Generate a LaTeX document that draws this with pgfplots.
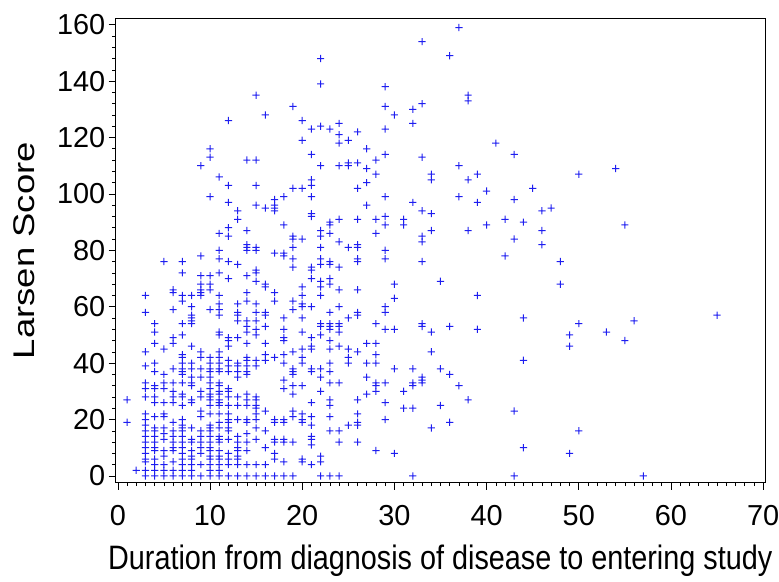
\documentclass[border=0pt]{standalone}
\usepackage{fontspec}
\setmainfont{Liberation Sans}
\usepackage{pgfplots}
\pgfplotsset{compat=1.18}
\usepackage{pgfplotstable}
\definecolor{sasblue}{RGB}{30,30,240}
\pgfdeclareplotmark{fplus}{%
  \pgfpathrectangle{\pgfpoint{-\pgfplotmarksize}{-0.5bp}}{\pgfpoint{2\pgfplotmarksize}{1bp}}%
  \pgfpathrectangle{\pgfpoint{-0.5bp}{-\pgfplotmarksize}}{\pgfpoint{1bp}{2\pgfplotmarksize}}%
  \pgfusepathqfill}
\pgfplotstableread{
x y
1 27
1 19
2 2
3 64
3 58
3 44
3 39
3 33
3 31
3 28
3 22
3 20
3 18
3 16
3 14
3 12
3 10
3 8
3 6
3 5
3 2
3 0
4 54
4 51
4 47
4 40
4 37
4 32
4 31
4 28
4 26
4 21
4 17
4 16
4 14
4 12
4 10
4 9
4 6
4 4
4 2
4 0
5 76
5 45
5 36
5 33
5 31
5 26
5 22
5 21
5 17
5 15
5 13
5 9
5 7
5 4
5 2
5 0
6 66
6 65
6 59
6 49
6 47
6 38
6 33
6 30
6 28
6 26
6 19
6 16
6 14
6 12
6 10
6 9
6 5
6 2
6 0
7 76
7 72
7 64
7 62
7 54
7 50
7 43
7 42
7 40
7 38
7 37
7 36
7 33
7 29
7 28
7 25
7 20
7 18
7 17
7 16
7 14
7 12
7 10
7 8
7 6
7 4
7 2
7 0
8 64
8 60
8 57
8 56
8 55
8 54
8 46
8 40
8 38
8 35
8 33
8 32
8 27
8 26
8 17
8 13
8 12
8 9
8 7
8 6
8 4
8 2
8 0
9 110
9 78
9 71
9 68
9 66
9 65
9 64
9 44
9 42
9 38
9 35
9 30
9 28
9 23
9 21
9 16
9 14
9 12
9 10
9 8
9 4
9 0
10 116
10 113
10 99
10 71
10 68
10 66
10 59
10 42
10 40
10 38
10 37
10 35
10 33
10 31
10 29
10 28
10 27
10 25
10 22
10 18
10 17
10 16
10 14
10 12
10 10
10 9
10 7
10 6
10 4
10 2
10 0
11 106
11 86
11 80
11 77
11 72
11 64
11 61
11 59
11 57
11 51
11 50
11 44
11 42
11 40
11 38
11 37
11 33
11 32
11 30
11 29
11 27
11 26
11 25
11 22
11 19
11 17
11 14
11 13
11 12
11 9
11 7
11 6
11 4
11 2
11 0
12 126
12 103
12 97
12 88
12 85
12 76
12 70
12 49
12 48
12 46
12 41
12 39
12 37
12 31
12 30
12 28
12 25
12 22
12 20
12 19
12 17
12 16
12 13
12 8
12 6
12 4
12 0
13 94
13 91
13 75
13 61
13 58
13 57
13 55
13 49
13 40
13 39
13 37
13 35
13 28
13 25
13 20
13 14
13 12
13 10
13 9
13 7
13 6
13 4
13 0
14 112
14 87
14 82
14 81
14 80
14 71
14 65
14 62
14 55
14 53
14 51
14 47
14 42
14 41
14 39
14 37
14 36
14 29
14 27
14 25
14 20
14 19
14 15
14 12
14 9
14 4
14 0
15 135
15 112
15 103
15 96
15 81
15 80
15 73
15 72
15 69
15 61
15 58
15 55
15 52
15 50
15 41
15 39
15 28
15 27
15 25
15 24
15 22
15 20
15 17
15 13
15 4
15 0
16 128
16 95
16 68
16 67
16 58
16 57
16 53
16 47
16 43
16 41
16 23
16 16
16 10
16 4
16 0
17 98
17 96
17 95
17 94
17 79
17 65
17 62
17 42
17 20
17 19
17 13
17 12
17 8
17 6
17 0
18 99
18 89
18 79
18 78
18 56
18 52
18 49
18 48
18 43
18 40
18 34
18 31
18 20
18 19
18 13
18 12
18 5
18 0
19 131
19 102
19 85
19 84
19 81
19 77
19 74
19 62
19 59
19 44
19 38
19 37
19 36
19 32
19 29
19 23
19 21
19 12
19 0
20 126
20 119
20 102
20 84
20 67
20 64
20 61
20 60
20 56
20 51
20 45
20 42
20 40
20 32
20 22
20 20
20 19
20 6
20 5
21 123
21 114
21 105
21 103
21 99
21 93
21 92
21 74
21 73
21 70
21 60
21 49
21 46
21 45
21 38
21 37
21 26
21 21
21 18
21 14
21 13
21 11
21 4
22 148
22 139
22 124
22 110
22 87
22 85
22 81
22 77
22 75
22 69
22 67
22 64
22 54
22 53
22 50
22 38
22 35
22 30
22 7
22 5
22 0
23 123
23 90
23 89
23 86
23 76
23 75
23 70
23 68
23 58
23 54
23 53
23 52
23 48
23 45
23 40
23 37
23 33
23 27
23 25
23 21
23 16
23 0
24 125
24 121
24 118
24 110
24 91
24 83
24 74
24 66
24 60
24 54
24 53
24 51
24 46
24 33
24 16
24 12
24 0
25 119
25 111
25 110
25 81
25 56
25 45
25 42
25 40
25 18
26 122
26 111
26 102
26 91
26 82
26 81
26 77
26 76
26 66
26 58
26 57
26 44
26 27
26 22
26 19
26 18
26 12
27 116
27 109
27 104
27 96
27 47
27 40
27 35
27 29
28 112
28 107
28 91
28 86
28 54
28 47
28 43
28 40
28 33
28 32
28 30
28 9
29 138
29 131
29 123
29 114
29 99
29 92
29 89
29 80
29 77
29 60
29 58
29 52
29 33
29 26
29 20
30 128
30 68
30 63
30 52
30 38
30 8
31 91
31 89
31 30
31 24
32 130
32 125
32 97
32 38
32 33
32 32
32 24
32 0
33 154
33 132
33 113
33 94
33 85
33 83
33 76
33 54
33 53
33 35
33 34
33 33
34 107
34 105
34 93
34 87
34 51
34 44
34 17
35 69
35 38
35 25
36 149
36 53
36 36
36 19
37 159
37 110
37 99
37 32
38 135
38 133
38 105
38 87
38 27
39 107
39 97
39 64
39 52
40 101
40 89
41 118
42 91
42 78
43 114
43 98
43 84
43 23
43 0
44 90
44 56
44 41
44 10
45 102
46 94
46 87
46 82
47 95
48 76
48 68
49 50
49 46
49 8
50 107
50 54
50 16
53 51
54 109
55 89
55 48
56 55
57 0
65 57
}\larsen

\begin{document}
\begin{tikzpicture}[x=1bp,y=1bp]
\useasboundingbox (0,0) rectangle (779,582);
\begin{axis}[
  at={(115.5bp,99.3bp)}, anchor=south west,
  scale only axis, width=649.5bp, height=464.2bp,
  xmin=-0.25, xmax=70.2, ymin=-2.4, ymax=162.2,
  xtick={0,10,...,70}, ytick={0,20,...,160},
  minor x tick num=9, minor y tick num=4,
  tick align=outside, xtick pos=left, ytick pos=left,
  major tick length=7bp, minor tick length=3.5bp,
  tick style={black, line width=0.6bp},
  axis line style={black, line width=0.8bp},
  /pgf/number format/assume math mode=true,
  tick label style={black, font=\fontsize{29}{29}\selectfont, inner sep=0pt},
  xticklabel shift=15bp, yticklabel shift=3bp,
  xlabel={\scalebox{0.85}[1]{Duration from diagnosis of disease to entering study}},
  ylabel={\scalebox{1.22}[1]{Larsen Score}},
  xlabel style={black, at={(axis description cs:0.5,-0.186)}, anchor=base, font=\fontsize{34}{34}\selectfont, inner sep=0pt},
  ylabel style={black, at={(axis description cs:-0.124,0.5)}, anchor=base, font=\fontsize{30}{30}\selectfont, inner sep=0pt},
]
\addplot[only marks, mark=fplus, mark size=3.6bp, color=sasblue, mark options={fill=sasblue, draw=none}] table[x=x,y=y]{\larsen};
\end{axis}
\end{tikzpicture}
\end{document}
